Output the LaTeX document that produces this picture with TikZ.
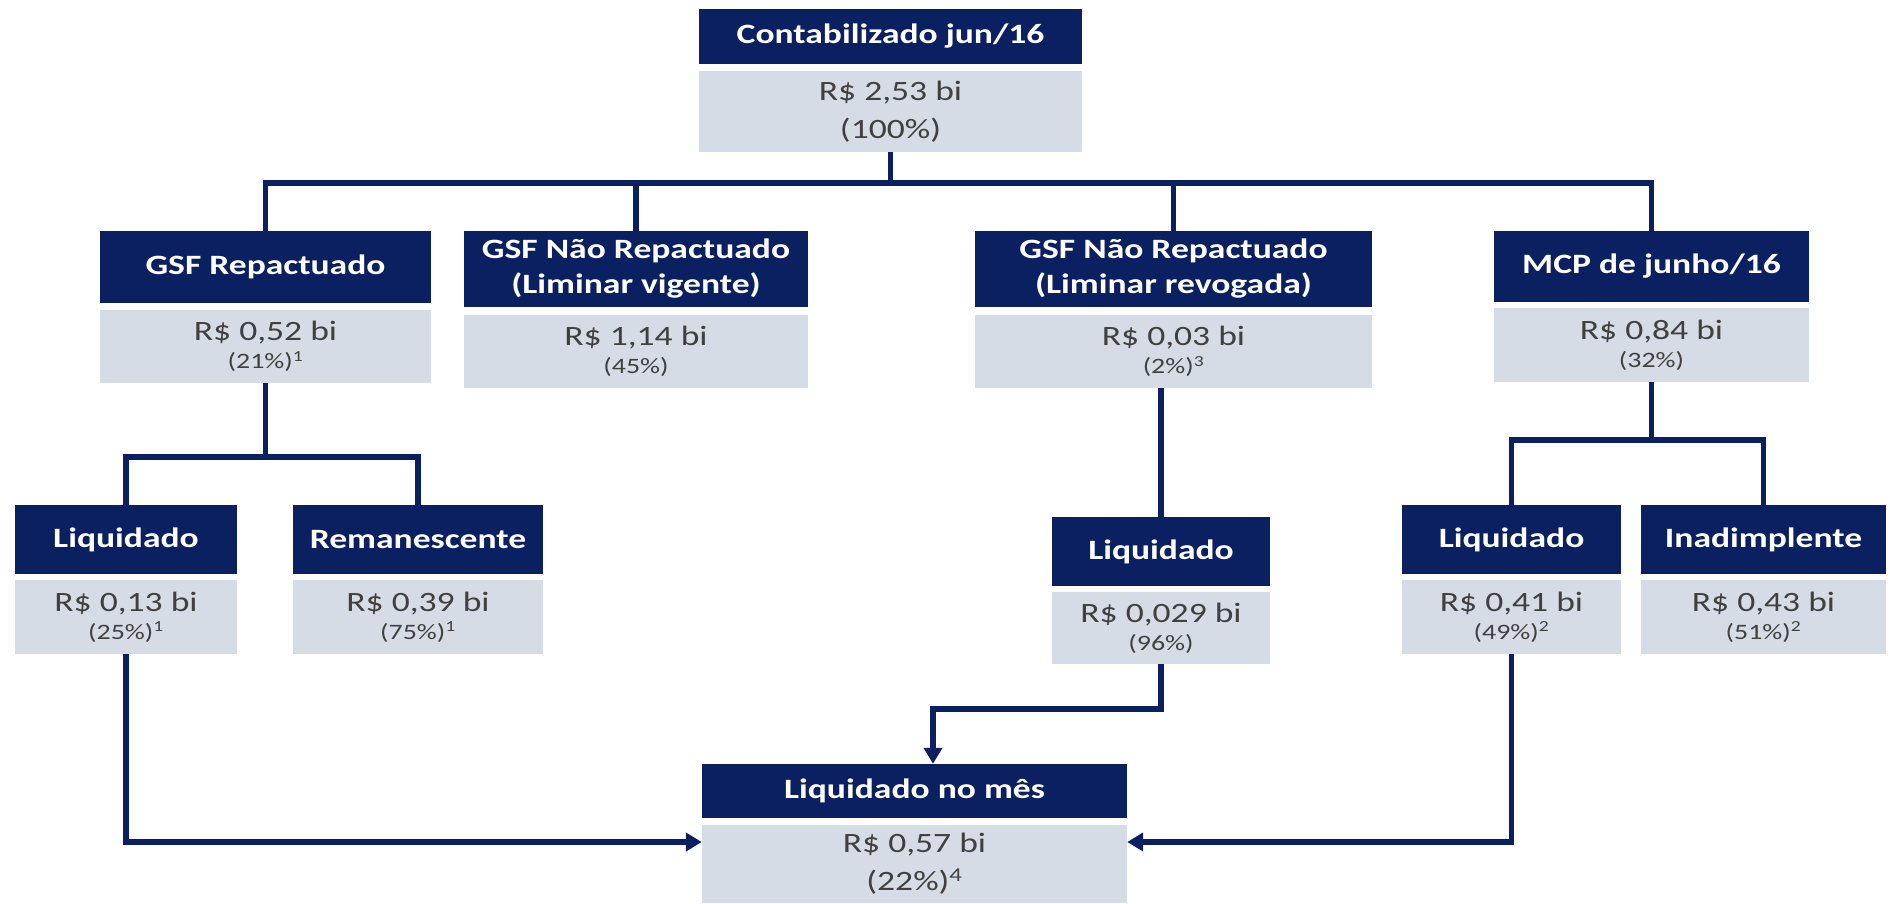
\documentclass[tikz,border=0pt]{standalone}
\usepackage{fontspec}
\setmainfont{Carlito}[FakeStretch=1.27]
\usetikzlibrary{arrows.meta}
\definecolor{navy}{RGB}{10,32,96}
\definecolor{pale}{RGB}{214,220,229}
\definecolor{ink}{RGB}{64,64,64}
\newcommand{\pct}[1]{{\fontsize{22}{26}\selectfont #1}}
\tikzset{%
  head/.style   = {shape=rectangle, fill=navy, text=white, align=center,%
                   inner sep=0pt, font=\fontsize{28}{35}\selectfont\bfseries},%
  amount/.style = {shape=rectangle, fill=pale, text=ink, align=center,%
                   inner sep=0pt, font=\fontsize{28}{35}\selectfont},%
  link/.style   = {draw=navy, line width=5.5pt},%
  flow/.style   = {link, -{Triangle[length=16pt,width=18pt]}}%
}
\begin{document}
\begin{tikzpicture}[x=1pt,y=-1pt]%
	\useasboundingbox (0,0) rectangle (1890,903);
	% total
	\node[head, minimum width=383pt, minimum height=55pt] (totH) at (890.5,36.5) {Contabilizado jun/16};%
	\node[amount, minimum width=383pt, minimum height=81pt] (totV) at (890.5,111.5) {R\$ 2,53 bi\\[3pt](100\%)};%
	% second level
	\node[head, minimum width=331pt, minimum height=72pt] (repH) at (265.5,267) {GSF Repactuado};%
	\node[amount, minimum width=331pt, minimum height=73pt] (repV) at (265.5,346.5) {R\$ 0,52 bi\\[-7pt]\pct{(21\%)\textsuperscript{1}}};%
	\node[head, minimum width=344pt, minimum height=76pt] (vigH) at (636,269) {GSF Não Repactuado\\(Liminar vigente)};%
	\node[amount, minimum width=344pt, minimum height=73pt] (vigV) at (636,351.5) {R\$ 1,14 bi\\[-7pt]\pct{(45\%)}};%
	\node[head, minimum width=397pt, minimum height=76pt] (revH) at (1173.5,269) {GSF Não Repactuado\\(Liminar revogada)};%
	\node[amount, minimum width=397pt, minimum height=73pt] (revV) at (1173.5,351.5) {R\$ 0,03 bi\\[-7pt]\pct{(2\%)\textsuperscript{3}}};%
	\node[head, minimum width=315pt, minimum height=71pt] (mcpH) at (1651.5,266.5) {MCP de junho/16};%
	\node[amount, minimum width=315pt, minimum height=74pt] (mcpV) at (1651.5,345) {R\$ 0,84 bi\\[-7pt]\pct{(32\%)}};%
	% third level
	\node[head, minimum width=222pt, minimum height=69pt] (liqAH) at (126,539.5) {Liquidado};%
	\node[amount, minimum width=222pt, minimum height=74pt] (liqAV) at (126,617) {R\$ 0,13 bi\\[-7pt]\pct{(25\%)\textsuperscript{1}}};%
	\node[head, minimum width=250pt, minimum height=69pt] (remH) at (418,539.5) {Remanescente};%
	\node[amount, minimum width=250pt, minimum height=74pt] (remV) at (418,617) {R\$ 0,39 bi\\[-7pt]\pct{(75\%)\textsuperscript{1}}};%
	\node[head, minimum width=218pt, minimum height=69pt] (liqCH) at (1161,551.5) {Liquidado};%
	\node[amount, minimum width=218pt, minimum height=72pt] (liqCV) at (1161,628) {R\$ 0,029 bi\\[-7pt]\pct{(96\%)}};%
	\node[head, minimum width=219pt, minimum height=69pt] (liqDH) at (1511.5,539.5) {Liquidado};%
	\node[amount, minimum width=219pt, minimum height=74pt] (liqDV) at (1511.5,617) {R\$ 0,41 bi\\[-7pt]\pct{(49\%)\textsuperscript{2}}};%
	\node[head, minimum width=245pt, minimum height=69pt] (inaH) at (1763.5,539.5) {Inadimplente};%
	\node[amount, minimum width=245pt, minimum height=74pt] (inaV) at (1763.5,617) {R\$ 0,43 bi\\[-7pt]\pct{(51\%)\textsuperscript{2}}};%
	% month total
	\node[head, minimum width=425pt, minimum height=54pt] (mesH) at (914.5,791) {Liquidado no mês};%
	\node[amount, minimum width=425pt, minimum height=78pt] (mesV) at (914.5,864) {R\$ 0,57 bi\\[3pt](22\%)\textsuperscript{4}};%
	% tree lines
	\coordinate (splitT) at (890.5,183);
	\coordinate (splitA) at (265.5,457);
	\coordinate (splitD) at (1651.5,440);
	\coordinate (bendC) at (933,709);
	\draw[link] (totV.south) -- (splitT);
	\draw[link] (repH.north) |- (splitT) -| (mcpH.north);
	\draw[link] (vigH.north) -- (vigH.north |- splitT);
	\draw[link] (revH.north) -- (revH.north |- splitT);
	\draw[link] (repV.south) -- (splitA);
	\draw[link] (liqAH.north) |- (splitA) -| (remH.north);
	\draw[link] (liqCH.north |- revV.south) -- (liqCH.north);
	\draw[link] (mcpV.south) -- (splitD);
	\draw[link] (liqDH.north) |- (splitD) -| (inaH.north);
	% flows into the month total
	\draw[flow] (liqAV.south) |- ([yshift=22pt]mesV.west);
	\draw[flow] (liqDV.south) |- ([yshift=22pt]mesV.east);
	\draw[flow] (liqCV.south) |- (bendC) -- (mesH.north -| bendC);
\end{tikzpicture}
\end{document}
